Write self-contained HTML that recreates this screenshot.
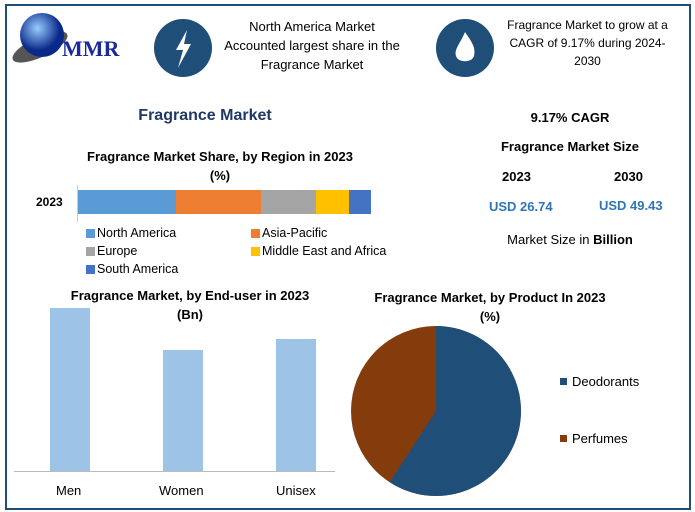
<!DOCTYPE html><html><head><style>
body{margin:0;width:695px;height:512px;background:#fff;font-family:"Liberation Sans",sans-serif;position:relative;overflow:hidden}
.a{position:absolute}
.c{text-align:center}
.b{font-weight:bold}
</style></head><body>
<div class="a" style="left:5px;top:4px;width:682px;height:502px;border:2px solid #1f4e79"></div>
<svg class="a" style="left:0;top:0" width="695" height="512">
<defs><radialGradient id="g" cx="40%" cy="35%"><stop offset="0" stop-color="#9cf"/><stop offset="1" stop-color="#0a2a8a"/></radialGradient></defs>
<ellipse cx="40" cy="47" rx="30" ry="10" fill="#555" transform="rotate(-25 40 47)"/>
<circle cx="42" cy="35" r="22" fill="url(#g)"/>
<text x="62" y="56" font-family="Liberation Serif" font-weight="bold" font-size="22" fill="#1a2a9a">MMR</text>
<circle cx="183" cy="48" r="29" fill="#1f4e79"/>
<polygon points="187,30 176,50 183,50 178,68 191,44 184,44" fill="#fff"/>
<circle cx="465" cy="48" r="29" fill="#1f4e79"/>
<path d="M465 32 C472 42 476 48 474 56 C472 63 458 63 456 56 C454 49 460 44 465 32Z" fill="#fff"/>
<rect x="78" y="190" width="98" height="24" fill="#5b9bd5"/>
<rect x="176" y="190" width="85" height="24" fill="#ed7d31"/>
<rect x="261" y="190" width="55" height="24" fill="#a5a5a5"/>
<rect x="316" y="190" width="33" height="24" fill="#ffc000"/>
<rect x="349" y="190" width="22" height="24" fill="#4472c4"/>
<line x1="77.5" y1="185" x2="77.5" y2="222" stroke="#ccc"/>
<rect x="86" y="229" width="9" height="9" fill="#5b9bd5"/><rect x="251" y="229" width="9" height="9" fill="#ed7d31"/>
<rect x="86" y="247" width="9" height="9" fill="#a5a5a5"/><rect x="251" y="247" width="9" height="9" fill="#ffc000"/>
<rect x="86" y="265" width="9" height="9" fill="#4472c4"/>
<rect x="50" y="308" width="40" height="163" fill="#9dc3e6"/>
<rect x="163" y="350" width="40" height="121" fill="#9dc3e6"/>
<rect x="276" y="339" width="40" height="132" fill="#9dc3e6"/>
<line x1="14" y1="471.5" x2="335" y2="471.5" stroke="#bbb"/>
<circle cx="436" cy="411" r="85" fill="#843c0c"/>
<path d="M436 411 L436 326 A85 85 0 1 1 389.7 482.3 Z" fill="#1f4e79"/>
<rect x="560" y="378" width="7" height="7" fill="#1f4e79"/>
<rect x="560" y="435" width="7" height="7" fill="#843c0c"/>
</svg>
<div class="a c" style="left:217px;top:17px;width:190px;font-size:13px;line-height:19px">North America Market<br>Accounted largest share in the<br>Fragrance Market</div>
<div class="a c" style="left:500px;top:16px;width:175px;font-size:12px;line-height:18px">Fragrance Market to grow at a<br>CAGR of 9.17% during 2024-<br>2030</div>
<div class="a c b" style="left:100px;top:107px;width:210px;font-size:16px;color:#1f3864">Fragrance Market</div>
<div class="a c b" style="left:60px;top:147px;width:320px;font-size:13px;line-height:19px">Fragrance Market Share, by Region in 2023<br>(%)</div>
<div class="a b" style="left:36px;top:195px;font-size:12px">2023</div>
<div class="a" style="left:97px;top:226px;font-size:12.5px">North America</div>
<div class="a" style="left:262px;top:226px;font-size:12.5px">Asia-Pacific</div>
<div class="a" style="left:97px;top:244px;font-size:12.5px">Europe</div>
<div class="a" style="left:262px;top:244px;font-size:12.5px">Middle East and Africa</div>
<div class="a" style="left:97px;top:262px;font-size:12.5px">South America</div>
<div class="a c b" style="left:480px;top:110px;width:180px;font-size:13px">9.17% CAGR</div>
<div class="a c b" style="left:480px;top:139px;width:180px;font-size:13px">Fragrance Market Size</div>
<div class="a b" style="left:502px;top:169px;font-size:13px">2023</div>
<div class="a b" style="left:614px;top:169px;font-size:13px">2030</div>
<div class="a b" style="left:489px;top:199px;font-size:13px;color:#2e75b6">USD 26.74</div>
<div class="a b" style="left:599px;top:198px;font-size:13px;color:#2e75b6">USD 49.43</div>
<div class="a c" style="left:480px;top:232px;width:180px;font-size:13px">Market Size in <b>Billion</b></div>
<div class="a c b" style="left:40px;top:286px;width:300px;font-size:13px;line-height:19px">Fragrance Market, by End-user in 2023<br>(Bn)</div>
<div class="a c b" style="left:340px;top:288px;width:300px;font-size:13px;line-height:19px">Fragrance Market, by Product In 2023<br>(%)</div>
<div class="a" style="left:56px;top:483px;font-size:13px">Men</div>
<div class="a" style="left:159px;top:483px;font-size:13px">Women</div>
<div class="a" style="left:276px;top:483px;font-size:13px">Unisex</div>
<div class="a" style="left:572px;top:374px;font-size:13px">Deodorants</div>
<div class="a" style="left:572px;top:431px;font-size:13px">Perfumes</div>
</body></html>
